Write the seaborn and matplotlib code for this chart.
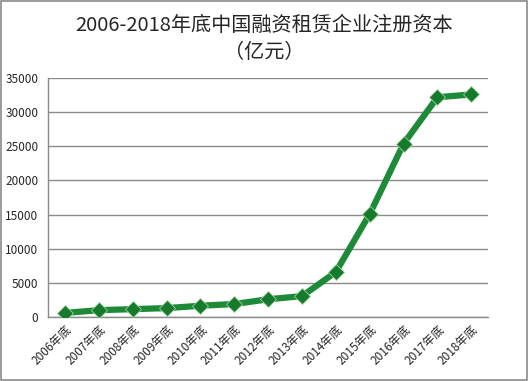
import matplotlib
matplotlib.use("Agg")
import matplotlib.pyplot as plt
import seaborn as sns
import pandas as pd
import numpy as np

years = ["2006年底", "2007年底", "2008年底", "2009年底", "2010年底", "2011年底",
         "2012年底", "2013年底", "2014年底", "2015年底", "2016年底", "2017年底", "2018年底"]
capital = [600, 1000, 1150, 1300, 1650, 1900, 2600, 3060, 6600, 15100, 25400, 32200, 32600]
yticks = [0, 5000, 10000, 15000, 20000, 25000, 30000, 35000]

sns.set_style("white")
plt.rcParams["font.family"] = ["Noto Sans CJK SC", "DejaVu Sans"]

df = pd.DataFrame({"pos": np.arange(len(years)), "val": capital})

fig = plt.figure(figsize=(5.29, 3.81), dpi=100)
ax = fig.add_axes([0.091, 0.168, 0.832, 0.627])

sns.lineplot(data=df, x="pos", y="val", ax=ax, color="#1d8a38", linewidth=4.5,
             marker="D", markersize=8, markerfacecolor="#157a2c",
             markeredgecolor="#9fd09a", markeredgewidth=0.6, zorder=3)

ax.set_xlim(-0.5, len(years) - 0.5)
ax.set_ylim(0, 35000)
ax.set_yticks(yticks)
ax.set_yticklabels([str(v) for v in yticks], fontsize=8.5)
ax.yaxis.grid(True, color="#8a8a8a", linewidth=1)
ax.set_axisbelow(True)

ax.set_xticks(np.arange(len(years)))
ax.set_xticklabels(years, rotation=45, ha="right", rotation_mode="anchor", fontsize=8.5)
ax.tick_params(axis="x", length=0, pad=4)
ax.set_xticks(np.arange(len(years) + 1) - 0.5, minor=True)
ax.tick_params(axis="x", which="minor", length=4, color="#8a8a8a", direction="out")
ax.tick_params(axis="y", length=4, color="#8a8a8a", direction="out", pad=3)
ax.set_xlabel("")
ax.set_ylabel("")

for s in ["top", "right"]:
    ax.spines[s].set_visible(False)
for s in ["left", "bottom"]:
    ax.spines[s].set_color("#8a8a8a")
    ax.spines[s].set_linewidth(1)

fig.text(0.5, 0.932, "2006-2018年底中国融资租赁企业注册资本", ha="center", va="center", fontsize=14.5)
fig.text(0.5, 0.862, "（亿元）", ha="center", va="center", fontsize=14.5)

fig.patches.append(plt.Rectangle((0.002, 0.003), 0.995, 0.994, transform=fig.transFigure,
                                 fill=False, edgecolor="#8a8a8a", linewidth=1.2))

fig.savefig("out.png", dpi=100)
